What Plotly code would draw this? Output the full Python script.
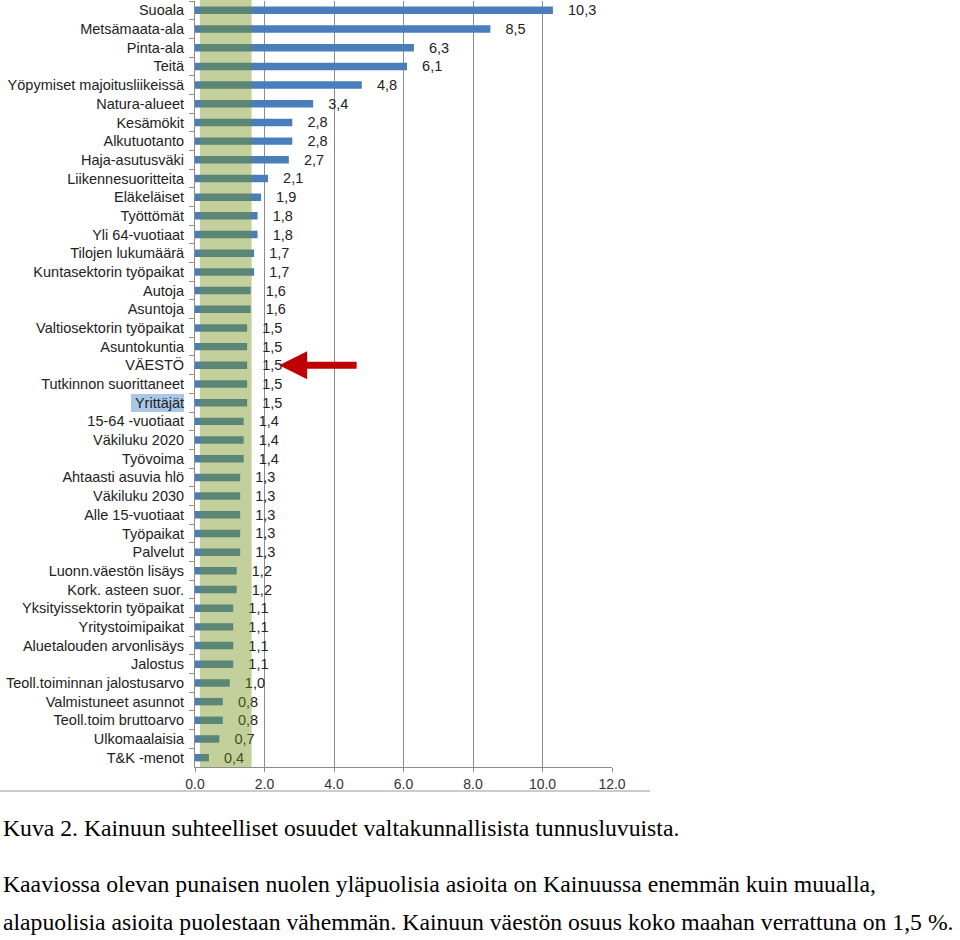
import plotly.graph_objects as go

categories = ["Suoala", "Metsämaata-ala", "Pinta-ala", "Teitä", "Yöpymiset majoitusliikeissä",
              "Natura-alueet", "Kesämökit", "Alkutuotanto", "Haja-asutusväki", "Liikennesuoritteita",
              "Eläkeläiset", "Työttömät", "Yli 64-vuotiaat", "Tilojen lukumäärä",
              "Kuntasektorin työpaikat", "Autoja", "Asuntoja", "Valtiosektorin työpaikat",
              "Asuntokuntia", "VÄESTÖ", "Tutkinnon suorittaneet", "Yrittäjät", "15-64 -vuotiaat",
              "Väkiluku 2020", "Työvoima", "Ahtaasti asuvia hlö", "Väkiluku 2030",
              "Alle 15-vuotiaat", "Työpaikat", "Palvelut", "Luonn.väestön lisäys",
              "Kork. asteen suor.", "Yksityissektorin työpaikat", "Yritystoimipaikat",
              "Aluetalouden arvonlisäys", "Jalostus", "Teoll.toiminnan jalostusarvo",
              "Valmistuneet asunnot", "Teoll.toim bruttoarvo", "Ulkomaalaisia", "T&K -menot"]
values = [10.3, 8.5, 6.3, 6.1, 4.8, 3.4, 2.8, 2.8, 2.7, 2.1, 1.9, 1.8, 1.8, 1.7, 1.7, 1.6, 1.6,
          1.5, 1.5, 1.5, 1.5, 1.5, 1.4, 1.4, 1.4, 1.3, 1.3, 1.3, 1.3, 1.3, 1.2, 1.2, 1.1, 1.1,
          1.1, 1.1, 1.0, 0.8, 0.8, 0.7, 0.4]
x_tickvals = [0, 2, 4, 6, 8, 10, 12]
x_ticktext = ["0.0", "2.0", "4.0", "6.0", "8.0", "10.0", "12.0"]
band_range = [0.14, 1.63]
arrow_target = "VÄESTÖ"
highlight_label = "Yrittäjät"
caption_lines = [
    "Kuva 2. Kainuun suhteelliset osuudet valtakunnallisista tunnusluvuista.",
    "Kaaviossa olevan punaisen nuolen yläpuolisia asioita on Kainuussa enemmän kuin muualla,",
    "alapuolisia asioita puolestaan vähemmän. Kainuun väestön osuus koko maahan verrattuna on 1,5 %.",
]

labels = ["\u00a0\u00a0\u00a0" + f"{v:.1f}".replace(".", ",") for v in values]

fig = go.Figure()
fig.add_trace(go.Bar(
    x=values, y=categories, orientation="h",
    marker=dict(color="#4a7ebb", line=dict(width=0)),
    text=labels, textposition="outside", constraintext="none", cliponaxis=False,
    textfont=dict(family="Liberation Sans, Arial", size=14.5, color="#222222"),
    hoverinfo="skip",
))

L, R, T, B = 195, 348, 1, 173
W, H = 960, 940
pw, ph = W - L - R, H - T - B

def px2paper_x(p):
    return (p - L) / pw

def px2paper_y(p):
    return (H - B - p) / ph

shapes = [
    dict(type="rect", xref="paper", yref="paper", x0=px2paper_x(131), x1=px2paper_x(184),
         y0=px2paper_y(412), y1=px2paper_y(394), fillcolor="#a9c8e8",
         line=dict(width=0), layer="below"),
    dict(type="rect", xref="x", yref="paper", x0=band_range[0], x1=band_range[1], y0=0, y1=1.01,
         fillcolor="rgb(114,143,19)", opacity=0.42, line=dict(width=0), layer="above"),
    dict(type="line", xref="paper", yref="paper", x0=px2paper_x(0), x1=px2paper_x(650),
         y0=px2paper_y(791), y1=px2paper_y(791), line=dict(color="#bbbbbb", width=1.5)),
]

annotations = [
    dict(x=2.42, y=arrow_target, xref="x", yref="y", ax=79, ay=0, text="", showarrow=True,
         arrowhead=2, arrowsize=0.8, arrowwidth=7, arrowcolor="#c00000"),
]
caption_y = [828, 884, 922]
for line, yy in zip(caption_lines, caption_y):
    annotations.append(dict(x=px2paper_x(1), y=px2paper_y(yy), xref="paper", yref="paper",
                            xanchor="left", yanchor="middle", text=line, showarrow=False,
                            font=dict(family="Liberation Serif, Times New Roman", size=23.7,
                                      color="#000000")))

fig.update_layout(
    width=W, height=H, margin=dict(l=L, r=R, t=T, b=B, pad=0),
    paper_bgcolor="white", plot_bgcolor="white", showlegend=False,
    bargap=0.6, shapes=shapes, annotations=annotations,
    xaxis=dict(range=[0, 12], tickvals=x_tickvals, ticktext=x_ticktext, showgrid=True,
               gridcolor="#8c8c8c", gridwidth=1, showline=True, linecolor="#8c8c8c",
               ticks="outside", ticklen=4, tickcolor="#8c8c8c", zeroline=False,
               tickfont=dict(family="Liberation Sans, Arial", size=14, color="#333333")),
    yaxis=dict(autorange="reversed", showline=True, linecolor="#8c8c8c", ticks="outside",
               tickson="boundaries", ticklen=5, tickcolor="#8c8c8c", showgrid=False,
               ticklabelstandoff=7,
               tickfont=dict(family="Liberation Sans, Arial", size=14.5, color="#222222")),
)

fig.write_html("out.html", config={"displayModeBar": False},
               post_script="document.body.style.margin='0';")
